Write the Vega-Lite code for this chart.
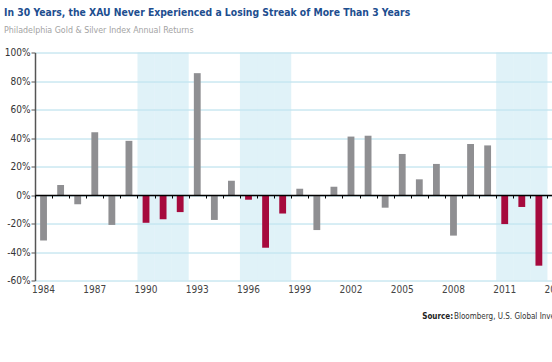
{
  "$schema": "https://vega.github.io/schema/vega-lite/v6.json",
  "autosize": {"type": "none"},
  "width": 517,
  "height": 228,
  "padding": {"left": 35, "top": 52.5, "right": 0, "bottom": 81.5},
  "background": "white",
  "title": {
    "text": "In 30 Years, the XAU Never Experienced a Losing Streak of More Than 3 Years",
    "subtitle": "Philadelphia Gold & Silver Index Annual Returns",
    "anchor": "start",
    "frame": "group",
    "dx": -31,
    "font": "Liberation Sans Narrow, DejaVu Sans Condensed, sans-serif",
    "fontSize": 10.3,
    "fontWeight": "bold",
    "color": "#1d4e8f",
    "subtitleFont": "Liberation Sans Narrow, DejaVu Sans Condensed, sans-serif",
    "subtitleFontSize": 8.8,
    "subtitleColor": "#a3a3a3",
    "subtitlePadding": 7,
    "offset": 13
  },
  "data": {
    "values": [
      {"year": 1984, "ret": -32, "period": "Other"},
      {"year": 1985, "ret": 7, "period": "Other"},
      {"year": 1986, "ret": -6.5, "period": "Other"},
      {"year": 1987, "ret": 44, "period": "Other"},
      {"year": 1988, "ret": -21, "period": "Other"},
      {"year": 1989, "ret": 38, "period": "Other"},
      {"year": 1990, "ret": -19.5, "period": "Losing streak"},
      {"year": 1991, "ret": -17, "period": "Losing streak"},
      {"year": 1992, "ret": -12, "period": "Losing streak"},
      {"year": 1993, "ret": 85.5, "period": "Other"},
      {"year": 1994, "ret": -17.5, "period": "Other"},
      {"year": 1995, "ret": 10, "period": "Other"},
      {"year": 1996, "ret": -3.3, "period": "Losing streak"},
      {"year": 1997, "ret": -37, "period": "Losing streak"},
      {"year": 1998, "ret": -13, "period": "Losing streak"},
      {"year": 1999, "ret": 4.4, "period": "Other"},
      {"year": 2000, "ret": -24.6, "period": "Other"},
      {"year": 2001, "ret": 5.8, "period": "Other"},
      {"year": 2002, "ret": 41, "period": "Other"},
      {"year": 2003, "ret": 41.6, "period": "Other"},
      {"year": 2004, "ret": -8.9, "period": "Other"},
      {"year": 2005, "ret": 28.8, "period": "Other"},
      {"year": 2006, "ret": 11, "period": "Other"},
      {"year": 2007, "ret": 21.8, "period": "Other"},
      {"year": 2008, "ret": -28.5, "period": "Other"},
      {"year": 2009, "ret": 35.8, "period": "Other"},
      {"year": 2010, "ret": 34.8, "period": "Other"},
      {"year": 2011, "ret": -20.4, "period": "Losing streak"},
      {"year": 2012, "ret": -8.4, "period": "Losing streak"},
      {"year": 2013, "ret": -49.6, "period": "Losing streak"}
    ]
  },
  "layer": [
    {
      "transform": [{"filter": "datum.period == 'Losing streak'"}],
      "mark": {"type": "bar", "color": "#c2e6f1", "opacity": 0.5, "width": {"band": 1}},
      "encoding": {
        "x": {
          "field": "year",
          "type": "ordinal",
          "scale": {
            "domain": [1984,1985,1986,1987,1988,1989,1990,1991,1992,1993,1994,1995,1996,1997,1998,1999,2000,2001,2002,2003,2004,2005,2006,2007,2008,2009,2010,2011,2012,2013,2014],
            "range": [0, 529.5],
            "paddingInner": 0,
            "paddingOuter": 0
          },
          "axis": {
            "orient": "bottom",
            "domain": false,
            "ticks": false,
            "grid": false,
            "labelPadding": 4,
            "labelAngle": 0,
            "labelOverlap": false,
            "labelFont": "Liberation Sans Narrow, DejaVu Sans Condensed, sans-serif",
            "labelFontSize": 10,
            "labelColor": "#444444",
            "labelExpr": "(datum.value - 1984) % 3 == 0 ? datum.value : ''",
            "title": "Source:",
            "titleX": 386.7,
            "titleY": 37.8,
            "titleAlign": "left",
            "titleAnchor": null,
            "titleBaseline": "alphabetic",
            "titleAngle": 0,
            "titleFont": "Liberation Sans Narrow, DejaVu Sans Condensed, sans-serif",
            "titleFontSize": 8,
            "titleFontWeight": "bold",
            "titleColor": "#222222"
          }
        }
      }
    },
    {
      "mark": {"type": "bar", "width": {"band": 0.4}},
      "encoding": {
        "x": {
          "field": "year",
          "type": "ordinal",
          "axis": {
            "orient": "bottom",
            "offset": -85.5,
            "zindex": 1,
            "labels": false,
            "grid": false,
            "ticks": true,
            "tickSize": 3,
            "tickColor": "#000000",
            "tickBand": "extent",
            "domainColor": "#000000",
            "domainWidth": 1.5,
            "title": "Bloomberg, U.S. Global Investors",
            "titleX": 418.5,
            "titleY": 123.3,
            "titleAlign": "left",
            "titleAnchor": null,
            "titleBaseline": "alphabetic",
            "titleAngle": 0,
            "titleFont": "Liberation Sans Narrow, DejaVu Sans Condensed, sans-serif",
            "titleFontSize": 8,
            "titleFontWeight": "normal",
            "titleColor": "#333333"
          }
        },
        "y": {
          "field": "ret",
          "type": "quantitative",
          "scale": {"domain": [-60, 100], "nice": false},
          "axis": {
            "values": [-60, -40, -20, 0, 20, 40, 60, 80, 100],
            "labelExpr": "datum.value + '%'",
            "title": null,
            "tickSize": 4,
            "tickColor": "#555555",
            "domainColor": "#555555",
            "domainWidth": 1.5,
            "gridColor": "#b0dcea",
            "gridWidth": 1,
            "labelPadding": 1,
            "labelFont": "Liberation Sans Narrow, DejaVu Sans Condensed, sans-serif",
            "labelFontSize": 10,
            "labelColor": "#333333"
          }
        },
        "color": {
          "field": "period",
          "type": "nominal",
          "scale": {"domain": ["Other", "Losing streak"], "range": ["#8f8f92", "#a60a3d"]},
          "legend": null
        }
      }
    }
  ],
  "resolve": {"axis": {"x": "independent"}},
  "config": {"view": {"stroke": null}}
}
